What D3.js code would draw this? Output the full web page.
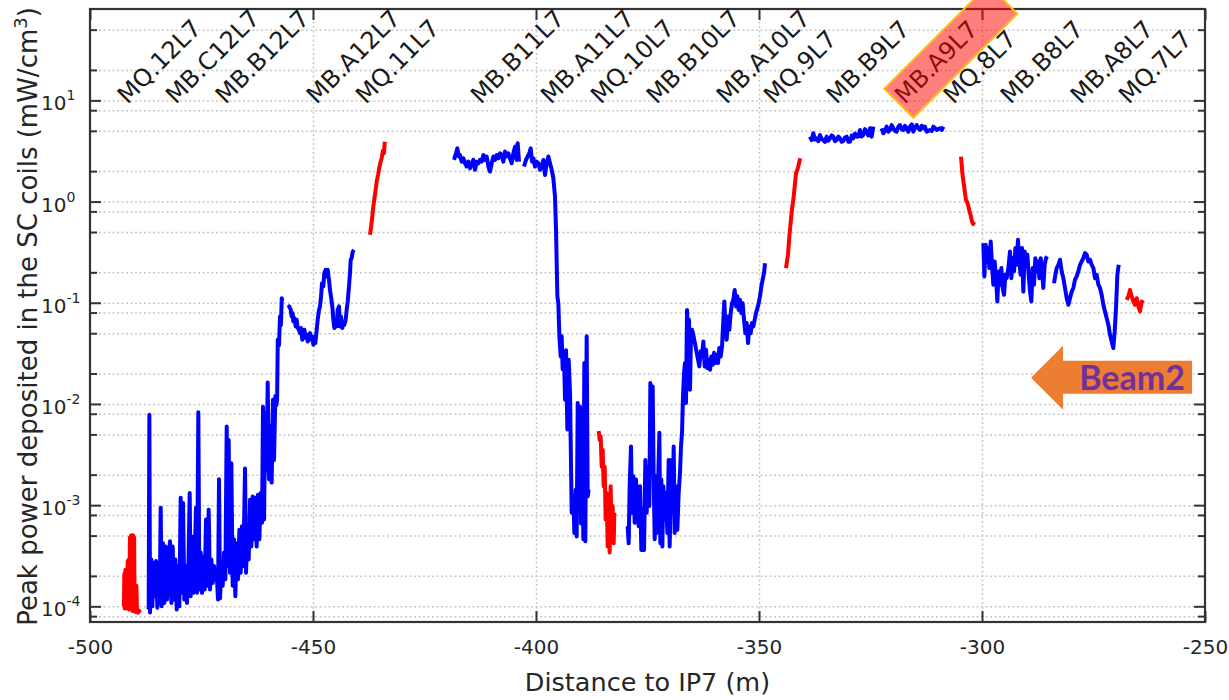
<!DOCTYPE html>
<html>
<head>
<meta charset="utf-8">
<script src="https://cdnjs.cloudflare.com/ajax/libs/d3/7.8.5/d3.min.js"></script>
<style>
	html, body { margin: 0; padding: 0; background: #fff; }
	svg { display: block; font-family: "DejaVu Sans", sans-serif; }
</style>
</head>
<body>
<svg id="chart" width="1229" height="700"></svg>
<script>
// Peak power density, one array per magnet. [distance (m), mW/cm3]
var red_mq12 = [[-492.40,1.0e-4],[-492.30,2.1e-4],[-492.20,9.5e-5],[-492.05,2.3e-4],[-491.95,9.7e-5],[-491.80,2.3e-4],[-491.70,9.5e-5],[-491.55,2.8e-4],[-491.45,9.5e-5],[-491.30,2.9e-4],[-491.20,9.3e-5],[-491.05,4.8e-4],[-490.95,9.5e-5],[-490.80,5.0e-4],[-490.70,9.3e-5],[-490.55,5.0e-4],[-490.45,9.0e-5],[-490.30,5.0e-4],[-490.20,9.0e-5],[-490.10,4.8e-4],[-490.00,9.0e-5],[-489.85,1.6e-4],[-489.75,8.8e-5],[-489.60,1.6e-4],[-489.45,8.7e-5],[-489.20,8.7e-5],[-488.95,9.0e-5],[-488.80,8.7e-5]];

var blue_mb12 = [[-486.84,9.3e-5],[-486.69,7.8e-3],[-486.54,8.7e-5],[-486.24,2.9e-4],[-486.02,1.0e-4],[-485.80,2.7e-4],[-485.50,1.26e-4],[-485.20,2.8e-4],[-484.90,9.7e-5],[-484.60,2.7e-4],[-484.38,1.08e-4],[-484.15,9.4e-4],[-483.93,1.0e-4],[-483.63,4.2e-4],[-483.33,1.08e-4],[-483.03,3.9e-4],[-482.73,1.17e-4],[-482.43,2.5e-4],[-482.06,4.4e-4],[-481.76,1.08e-4],[-481.46,3.9e-4],[-481.16,1.17e-4],[-480.86,2.9e-4],[-480.56,9.3e-5],[-480.27,2.5e-4],[-479.97,1.0e-4],[-479.67,1.18e-3],[-479.44,1.36e-4],[-479.14,1.05e-3],[-478.85,1.17e-4],[-478.55,2.5e-4],[-478.25,1.08e-4],[-477.95,2.3e-4],[-477.65,1.32e-3],[-477.43,1.26e-4],[-477.13,4.9e-4],[-476.83,1.36e-4],[-476.53,3.1e-4],[-476.23,9.4e-4],[-476.00,1.36e-4],[-475.71,8.3e-3],[-475.48,1.47e-4],[-475.18,3.4e-4],[-474.88,1.36e-4],[-474.58,3.1e-4],[-474.29,1.47e-4],[-473.99,7.2e-4],[-473.69,1.6e-4],[-473.39,9.0e-4],[-473.09,1.47e-4],[-472.79,2.9e-4],[-472.49,1.7e-4],[-472.19,2.5e-4],[-471.90,1.85e-4],[-471.60,2.15e-4],[-471.30,1.17e-4],[-471.07,1.8e-3],[-470.85,1.2e-4],[-470.55,2.5e-4],[-470.25,1.6e-4],[-469.95,3.4e-4],[-469.65,1.85e-4],[-469.35,6.0e-3],[-469.13,2.5e-4],[-468.91,4.4e-3],[-468.61,2.15e-4],[-468.31,2.6e-3],[-468.01,1.6e-4],[-467.71,4.6e-4],[-467.41,1.26e-4],[-467.11,4.2e-4],[-466.81,1.85e-4],[-466.51,5.7e-4],[-466.21,2.15e-4],[-465.92,6.2e-4],[-465.62,2.5e-4],[-465.24,2.3e-3],[-465.02,2.15e-4],[-464.72,5.7e-4],[-464.42,2.9e-4],[-464.12,1.13e-3],[-463.82,3.9e-4],[-463.52,1.22e-3],[-463.22,4.6e-4],[-462.93,1.18e-3],[-462.63,3.9e-4],[-462.33,1.27e-3],[-462.03,4.6e-4],[-461.73,1.32e-3],[-461.43,6.7e-4],[-461.21,9.4e-3],[-460.98,7.2e-4],[-460.69,8.1e-3],[-460.39,2.2e-3],[-460.16,1.63e-2],[-459.86,1.8e-3],[-459.56,6.0e-3],[-459.27,1.67e-3],[-458.97,1.1e-2],[-458.74,2.8e-3],[-458.44,1.2e-2],[-458.22,9.7e-3],[-458.05,1.1e-2],[-457.90,4.3e-2],[-457.62,3.8e-2],[-457.40,7.3e-2],[-457.20,6.0e-2],[-457.00,1.11e-1],[-456.87,1.05e-1]];

var blue_mba12 = [[-455.53,0.0886],[-455.30,0.092],[-455.00,0.0853],[-454.78,0.0733],[-454.56,0.079],[-454.41,0.0655],[-454.18,0.0706],[-453.88,0.0584],[-453.66,0.0679],[-453.43,0.0562],[-453.14,0.0541],[-452.91,0.0501],[-452.69,0.0562],[-452.39,0.0431],[-452.16,0.0501],[-451.94,0.0541],[-451.64,0.0448],[-451.42,0.0483],[-451.19,0.0415],[-450.89,0.0465],[-450.67,0.0501],[-450.45,0.0431],[-450.15,0.0465],[-449.92,0.0385],[-449.70,0.0448],[-449.47,0.040],[-449.17,0.0541],[-448.95,0.0679],[-448.65,0.0853],[-448.43,0.092],[-448.20,0.115],[-447.98,0.156],[-447.68,0.145],[-447.46,0.197],[-447.16,0.212],[-446.93,0.182],[-446.71,0.212],[-446.41,0.168],[-446.19,0.134],[-445.96,0.115],[-445.66,0.092],[-445.44,0.0679],[-445.21,0.0562],[-444.91,0.0679],[-444.69,0.0584],[-444.47,0.0853],[-444.17,0.092],[-443.94,0.0584],[-443.72,0.0733],[-443.42,0.0562],[-443.20,0.063],[-442.97,0.0607],[-442.67,0.0679],[-442.45,0.0853],[-442.22,0.103],[-441.93,0.145],[-441.70,0.197],[-441.55,0.266],[-441.33,0.276],[-441.10,0.32],[-440.80,0.333]];

var red_mq11 = [[-437.22,0.47],[-437.00,0.55],[-436.70,0.72],[-436.48,0.89],[-436.20,1.1],[-435.90,1.35],[-435.72,1.58],[-435.40,1.85],[-435.10,2.2],[-434.90,2.4],[-434.60,2.7],[-434.30,3.2],[-434.10,3.0],[-433.90,3.9]];

var blue_mbb11 = [[-418.38,2.58],[-418.16,2.79],[-417.93,3.0],[-417.63,3.36],[-417.33,2.79],[-417.04,2.89],[-416.66,2.48],[-416.29,2.68],[-415.91,2.39],[-415.54,2.22],[-415.17,2.48],[-414.79,2.13],[-414.42,2.39],[-414.05,2.58],[-413.67,2.06],[-413.30,2.48],[-412.93,2.39],[-412.55,2.58],[-412.18,2.48],[-411.80,2.89],[-411.43,2.58],[-411.06,2.79],[-410.68,2.22],[-410.31,1.98],[-409.94,2.39],[-409.56,2.79],[-409.19,2.58],[-408.81,2.89],[-408.44,2.68],[-408.07,3.0],[-407.69,2.89],[-407.32,2.48],[-406.95,3.12],[-406.57,2.79],[-406.20,3.0],[-405.83,2.68],[-405.45,2.39],[-405.08,3.0],[-404.70,3.49],[-404.33,2.58],[-404.11,3.77],[-403.81,2.48]];

var blue_mba11 = [[-402.69,2.22],[-402.24,2.58],[-401.86,2.79],[-401.49,3.0],[-401.19,3.36],[-400.89,2.48],[-400.59,2.68],[-400.22,2.22],[-399.85,2.48],[-399.47,2.39],[-399.10,2.06],[-398.72,2.22],[-398.35,2.58],[-397.98,1.83],[-397.60,2.39],[-397.23,2.79],[-396.86,2.39],[-396.48,2.06],[-396.11,1.70],[-395.74,1.12],[-395.51,0.526],[-395.21,0.116],[-394.99,0.099],[-394.76,0.0466],[-394.46,0.0295],[-394.24,0.0466],[-394.02,0.022],[-393.72,0.0295],[-393.49,0.011],[-393.27,0.034],[-392.97,5.6e-3],[-392.67,0.0273],[-392.37,0.0129],[-392.00,8.4e-4],[-391.62,1.22e-3],[-391.40,5.3e-4],[-391.10,1.42e-3],[-390.88,4.9e-4],[-390.65,0.0102],[-390.43,1.22e-3],[-390.13,9.4e-3],[-389.91,6.6e-4],[-389.61,2.6e-3],[-389.38,4.6e-4],[-389.16,0.0254],[-388.94,4.4e-4],[-388.64,0.0466],[-388.41,1.22e-3],[-388.19,1.43e-3]];

var red_mq10 = [[-385.95,5.4e-3],[-385.72,4.4e-3],[-385.50,4.8e-3],[-385.27,2.4e-3],[-385.05,3.5e-3],[-384.83,1.54e-3],[-384.60,2.4e-3],[-384.38,7.2e-4],[-384.15,1.32e-3],[-383.93,3.9e-4],[-383.70,8.4e-4],[-383.48,3.4e-4],[-383.26,1.54e-3],[-383.03,4.6e-4],[-382.81,9.8e-4],[-382.58,4.2e-4],[-382.43,8.4e-4]];

var blue_mb10 = [[-379.45,6.2e-4],[-379.22,4.2e-4],[-379.00,1.54e-3],[-378.70,3.8e-3],[-378.47,8.4e-4],[-378.17,1.93e-3],[-377.87,6.7e-4],[-377.58,1.79e-3],[-377.28,9.1e-4],[-376.98,6.2e-4],[-376.68,1.54e-3],[-376.38,3.6e-4],[-376.08,9.1e-4],[-375.78,3.6e-4],[-375.48,2.8e-3],[-375.18,8.4e-4],[-374.89,2.4e-3],[-374.59,9.8e-4],[-374.36,0.0161],[-374.14,6.0e-3],[-373.84,0.0149],[-373.62,1.93e-3],[-373.39,4.6e-4],[-373.17,1.93e-3],[-372.94,5.3e-4],[-372.64,1.54e-3],[-372.34,5.2e-3],[-372.12,4.2e-4],[-371.90,1.79e-3],[-371.67,3.9e-4],[-371.45,1.54e-3],[-371.15,7.2e-4],[-370.85,1.32e-3],[-370.55,5.3e-4],[-370.25,2.8e-3],[-370.03,3.9e-4],[-369.80,1.22e-3],[-369.58,2.8e-3],[-369.36,8.4e-4],[-369.13,3.8e-3],[-368.91,5.3e-4],[-368.61,1.54e-3],[-368.31,5.7e-4],[-368.01,1.32e-3],[-367.71,2.1e-3],[-367.49,3.8e-3],[-367.26,5.2e-3],[-367.04,0.0119],[-366.81,0.0202],[-366.59,0.0254],[-366.37,0.0102],[-366.14,0.085],[-365.92,0.050],[-365.69,0.068],[-365.47,0.0138],[-365.25,0.0466],[-365.02,0.054],[-364.80,0.050],[-363.38,0.0235],[-363.08,0.0331],[-362.78,0.0295],[-362.48,0.0415],[-362.18,0.0235],[-361.88,0.0343],[-361.58,0.0226],[-361.28,0.0274],[-360.98,0.0218],[-360.69,0.0295],[-360.39,0.0244],[-360.09,0.032],[-359.79,0.0254],[-359.49,0.0307],[-359.19,0.0254],[-358.89,0.0357],[-358.59,0.0295],[-358.29,0.037],[-357.99,0.068],[-357.77,0.103],[-357.55,0.063],[-357.25,0.0431],[-356.95,0.073],[-356.65,0.054],[-356.35,0.079],[-356.05,0.099],[-355.75,0.107],[-355.45,0.134],[-355.16,0.092],[-354.86,0.116],[-354.56,0.085],[-354.26,0.107],[-353.96,0.079],[-353.66,0.099],[-353.36,0.068],[-353.06,0.050],[-352.76,0.063],[-352.46,0.040],[-352.17,0.0584],[-351.87,0.050],[-351.57,0.063],[-351.27,0.0584],[-350.97,0.068],[-350.67,0.079],[-350.37,0.088],[-350.07,0.099],[-349.77,0.116],[-349.47,0.145],[-349.18,0.169],[-348.88,0.196],[-348.65,0.246]];

var red_mq9 = [[-343.95,0.22],[-343.70,0.26],[-343.50,0.30],[-343.20,0.45],[-342.90,0.62],[-342.60,0.85],[-342.30,1.04],[-342.00,1.4],[-341.70,1.91],[-341.50,2.0],[-341.20,2.22],[-341.00,2.4],[-340.80,2.68]];

var blue_mbb9 = [[-338.57,4.38],[-338.20,4.05],[-337.82,4.73],[-337.45,4.1],[-337.07,4.22],[-336.70,3.95],[-336.33,4.55],[-335.95,4.15],[-335.58,4.06],[-335.20,3.9],[-334.83,4.38],[-334.45,4.0],[-334.08,4.22],[-333.70,4.5],[-333.34,4.38],[-332.95,3.95],[-332.59,4.06],[-332.20,4.4],[-331.84,4.22],[-331.45,3.9],[-331.09,3.97],[-330.70,4.3],[-330.35,4.38],[-329.95,3.9],[-329.60,3.91],[-329.20,4.5],[-328.85,4.22],[-328.45,4.7],[-328.10,4.38],[-327.70,4.4],[-327.36,5.10],[-327.00,4.4],[-326.61,4.55],[-326.25,5.2],[-325.86,4.91],[-325.50,4.5],[-325.11,5.30],[-324.74,4.38],[-324.37,5.50]];

var blue_mba9 = [[-322.50,5.30],[-322.12,4.73],[-321.75,5.0],[-321.38,5.50],[-321.00,4.9],[-320.63,5.10],[-320.25,5.7],[-319.88,5.30],[-319.50,5.0],[-319.14,4.91],[-318.75,5.5],[-318.39,5.71],[-318.00,5.2],[-317.64,5.10],[-317.25,5.6],[-316.89,5.30],[-316.50,4.9],[-316.15,5.50],[-315.75,5.8],[-315.40,4.91],[-315.00,5.4],[-314.65,5.71],[-314.25,5.3],[-313.90,5.10],[-313.50,5.6],[-313.16,5.30],[-312.80,5.5],[-312.41,4.91],[-312.00,5.0],[-311.66,5.10],[-311.25,5.0],[-310.91,5.50],[-310.50,5.3],[-310.17,5.10],[-309.80,5.2],[-309.42,5.30],[-309.00,5.1],[-308.67,5.50]];

var red_mq8 = [[-304.71,2.78],[-304.55,2.3],[-304.40,1.9],[-304.19,1.6],[-304.00,1.41],[-303.81,1.2],[-303.60,1.04],[-303.30,0.98],[-303.06,0.9],[-302.85,0.82],[-302.69,0.77],[-302.50,0.72],[-302.31,0.65],[-302.00,0.6],[-301.73,0.63]];

var blue_mbb8 = [[-299.70,0.388],[-299.47,0.182],[-299.17,0.374],[-298.95,0.256],[-298.65,0.347],[-298.35,0.220],[-298.05,0.403],[-297.76,0.237],[-297.46,0.151],[-297.16,0.256],[-296.86,0.175],[-296.56,0.103],[-296.26,0.204],[-295.96,0.151],[-295.66,0.220],[-295.36,0.140],[-295.06,0.120],[-294.77,0.189],[-294.47,0.175],[-294.09,0.220],[-293.72,0.321],[-293.42,0.175],[-293.12,0.276],[-292.82,0.204],[-292.52,0.347],[-292.22,0.237],[-291.93,0.419],[-291.63,0.256],[-291.33,0.189],[-291.03,0.347],[-290.73,0.129],[-290.43,0.321],[-290.13,0.237],[-289.83,0.298],[-289.53,0.189],[-289.23,0.129],[-288.94,0.103],[-288.64,0.220],[-288.34,0.151],[-288.04,0.276],[-287.74,0.204],[-287.44,0.256],[-287.14,0.175],[-286.84,0.276],[-286.54,0.204],[-286.25,0.140],[-285.95,0.237],[-285.65,0.276],[-285.35,0.287]];

var blue_mba8 = [[-283.85,0.156],[-283.55,0.189],[-283.26,0.220],[-282.88,0.237],[-282.51,0.266],[-282.13,0.204],[-281.76,0.175],[-281.39,0.140],[-281.01,0.111],[-280.64,0.0955],[-280.27,0.111],[-279.89,0.129],[-279.52,0.140],[-279.14,0.169],[-278.77,0.182],[-278.40,0.204],[-278.02,0.237],[-277.65,0.256],[-277.28,0.276],[-276.90,0.309],[-276.53,0.298],[-276.16,0.256],[-275.78,0.266],[-275.41,0.237],[-275.03,0.220],[-274.66,0.175],[-274.29,0.189],[-273.91,0.151],[-273.54,0.140],[-273.17,0.120],[-272.79,0.0955],[-272.42,0.082],[-272.05,0.0706],[-271.67,0.0607],[-271.30,0.0483],[-270.92,0.0415],[-270.55,0.0357],[-270.25,0.0521],[-269.95,0.0886],[-269.65,0.189],[-269.35,0.237]];

var red_mq7 = [[-267.56,0.107],[-267.19,0.116],[-266.81,0.134],[-266.44,0.116],[-266.07,0.103],[-265.69,0.0955],[-265.32,0.111],[-264.94,0.092],[-264.57,0.082],[-264.20,0.103],[-263.82,0.099]];

// Axis ticks
var x_tick_values = [-500, -450, -400, -350, -300, -250];
var y_decades = [1e-4, 1e-3, 1e-2, 1e-1, 1, 10];
var y_decade_exponents = ['-4', '-3', '-2', '-1', '0', '1'];
var y_minor_steps = [2, 5, 8];

// Magnet names written over the plot and where each one starts (m)
var element_names = ['MQ.12L7', 'MB.C12L7', 'MB.B12L7', 'MB.A12L7', 'MQ.11L7', 'MB.B11L7', 'MB.A11L7', 'MQ.10L7', 'MB.B10L7', 'MB.A10L7', 'MQ.9L7', 'MB.B9L7', 'MB.A9L7', 'MQ.8L7', 'MB.B8L7', 'MB.A8L7', 'MQ.7L7'];
var element_positions = [-491.6, -480.8, -469.6, -449.2, -438.2, -412.4, -396.7, -385.5, -373.0, -357.3, -346.7, -332.6, -317.3, -306.4, -293.6, -277.9, -267.1];
var highlighted_element = 'MB.A9L7';

(function (d3) {

	var plot = { left: 90, top: 9, right: 1205, bottom: 622 };
	var plot_width = plot.right - plot.left;
	var plot_height = plot.bottom - plot.top;

	var x = d3.scaleLinear().domain([-500, -250]).range([plot.left, plot.right]);
	var y = d3.scaleLog().domain([7e-5, 80]).range([plot.bottom, plot.top]);

	var svg = d3.select('#chart');

	var series = [
		{ color: '#ff0000', values: red_mq12 },
		{ color: '#0000ff', values: blue_mb12 },
		{ color: '#0000ff', values: blue_mba12 },
		{ color: '#ff0000', values: red_mq11 },
		{ color: '#0000ff', values: blue_mbb11 },
		{ color: '#0000ff', values: blue_mba11 },
		{ color: '#ff0000', values: red_mq10 },
		{ color: '#0000ff', values: blue_mb10 },
		{ color: '#ff0000', values: red_mq9 },
		{ color: '#0000ff', values: blue_mbb9 },
		{ color: '#0000ff', values: blue_mba9 },
		{ color: '#ff0000', values: red_mq8 },
		{ color: '#0000ff', values: blue_mbb8 },
		{ color: '#0000ff', values: blue_mba8 },
		{ color: '#ff0000', values: red_mq7 }
	];

	// 2, 5 and 8 of every decade that falls inside the y range
	var y_minor = [];
	[1e-5].concat(y_decades).forEach(function (decade) {
		y_minor_steps.forEach(function (step) {
			var v = decade * step;
			if (v >= y.domain()[0] && v < y.domain()[1]) { y_minor.push(v); }
		});
	});

	// dotted grid
	var grid = svg.append('g');
	grid.append('g')
		.attr('transform', 'translate(' + plot.left + ',0)')
		.call(d3.axisLeft(y).tickValues(y_decades.concat(y_minor)).tickSize(-plot_width).tickFormat(''));
	grid.append('g')
		.attr('transform', 'translate(0,' + plot.bottom + ')')
		.call(d3.axisBottom(x).tickValues(x_tick_values.slice(1, -1)).tickSize(-plot_height).tickFormat(''));
	grid.selectAll('.domain').remove();
	grid.selectAll('line')
		.attr('stroke', '#c8c8c8')
		.attr('stroke-width', 1.5)
		.attr('stroke-dasharray', '2,2.5');

	svg.append('clipPath').attr('id', 'plot-clip')
		.append('rect')
		.attr('x', plot.left).attr('y', plot.top)
		.attr('width', plot_width).attr('height', plot_height);

	var line = d3.line()
		.x(function (d) { return x(d[0]); })
		.y(function (d) { return y(d[1]); });

	svg.append('g')
		.attr('clip-path', 'url(#plot-clip)')
		.selectAll('path')
		.data(series)
		.enter().append('path')
		.attr('d', function (d) { return line(d.values); })
		.attr('fill', 'none')
		.attr('stroke', function (d) { return d.color; })
		.attr('stroke-width', 4)
		.attr('stroke-linejoin', 'round');

	function style_ticks(g) {
		g.attr('font-family', null).attr('font-size', null);
		g.select('.domain').remove();
		g.selectAll('.tick line').attr('stroke', '#333').attr('stroke-width', 2);
	}

	// x axis, ticks pointing inside on both edges
	svg.append('g')
		.attr('transform', 'translate(0,' + plot.bottom + ')')
		.call(d3.axisBottom(x).tickValues(x_tick_values).tickSizeInner(-11).tickSizeOuter(0).tickPadding(18)
			.tickFormat(function (d) { return String(d); }))
		.call(style_ticks)
		.selectAll('text')
		.attr('fill', '#262626')
		.style('font-size', '20px');
	svg.append('g')
		.attr('transform', 'translate(0,' + plot.top + ')')
		.call(d3.axisTop(x).tickValues(x_tick_values).tickSizeInner(-11).tickSizeOuter(0).tickFormat(''))
		.call(style_ticks);

	// y axis, major and minor ticks on both edges
	[[d3.axisLeft, plot.left], [d3.axisRight, plot.right]].forEach(function (side) {
		svg.append('g')
			.attr('transform', 'translate(' + side[1] + ',0)')
			.call(side[0](y).tickValues(y_decades).tickSizeInner(-11).tickSizeOuter(0).tickFormat(''))
			.call(style_ticks);
		svg.append('g')
			.attr('transform', 'translate(' + side[1] + ',0)')
			.call(side[0](y).tickValues(y_minor).tickSizeInner(-7).tickSizeOuter(0).tickFormat(''))
			.call(style_ticks);
	});

	var y_labels = svg.append('g').selectAll('text')
		.data(y_decades)
		.enter().append('text')
		.attr('x', plot.left - 49)
		.attr('y', function (d) { return y(d) + 10; })
		.attr('fill', '#262626')
		.style('font-size', '20px');
	y_labels.append('tspan').text('10');
	y_labels.append('tspan')
		.attr('dy', -10)
		.style('font-size', '14px')
		.text(function (d, i) { return y_decade_exponents[i]; });

	// frame
	svg.append('rect')
		.attr('x', plot.left).attr('y', plot.top)
		.attr('width', plot_width).attr('height', plot_height)
		.attr('fill', 'none')
		.attr('stroke', '#333')
		.attr('stroke-width', 2.2);

	// magnet names, tilted
	var labels = svg.append('g').selectAll('g')
		.data(element_names)
		.enter().append('g')
		.attr('transform', function (d, i) {
			return 'translate(' + x(element_positions[i]) + ',105) rotate(-45)';
		});
	labels.append('text')
		.attr('fill', '#1a1a1a')
		.style('font-size', '24px')
		.text(function (d) { return d; });
	labels.filter(function (d) { return d === highlighted_element; })
		.append('rect')
		.attr('x', -3).attr('y', -26)
		.attr('width', 147).attr('height', 41)
		.attr('fill', '#ff0000')
		.attr('fill-opacity', 0.5)
		.attr('stroke', '#ffc000')
		.attr('stroke-width', 2);

	// beam direction arrow
	var tip_x = x(-289.0);
	var tip_y = y(0.0182);
	var arrow = svg.append('g').attr('transform', 'translate(' + tip_x + ',' + tip_y + ')');
	arrow.append('path')
		.attr('d', 'M0,0 L32,-32 L32,-17 L161,-17 L161,16 L32,16 L32,32 Z')
		.attr('fill', '#ed7d31');
	arrow.append('text')
		.attr('x', 101).attr('y', 12)
		.attr('text-anchor', 'middle')
		.attr('fill', '#7030a0')
		.style('font-family', 'Lato, "DejaVu Sans", sans-serif')
		.style('font-weight', 'bold')
		.style('font-size', '34px')
		.text('Beam2');

	// axis titles
	svg.append('text')
		.attr('x', (plot.left + plot.right) / 2)
		.attr('y', 691)
		.attr('text-anchor', 'middle')
		.attr('fill', '#262626')
		.style('font-size', '25.5px')
		.text('Distance to IP7 (m)');

	var y_title = svg.append('text')
		.attr('transform', 'translate(37,' + ((plot.top + plot.bottom) / 2 + 1) + ') rotate(-90)')
		.attr('text-anchor', 'middle')
		.attr('fill', '#262626')
		.style('font-size', '26px');
	y_title.append('tspan').text('Peak power deposited in the SC coils (mW/cm');
	y_title.append('tspan').attr('dy', -10).style('font-size', '18px').text('3');
	y_title.append('tspan').attr('dy', 10).text(')');

}(d3));
</script>
</body>
</html>
